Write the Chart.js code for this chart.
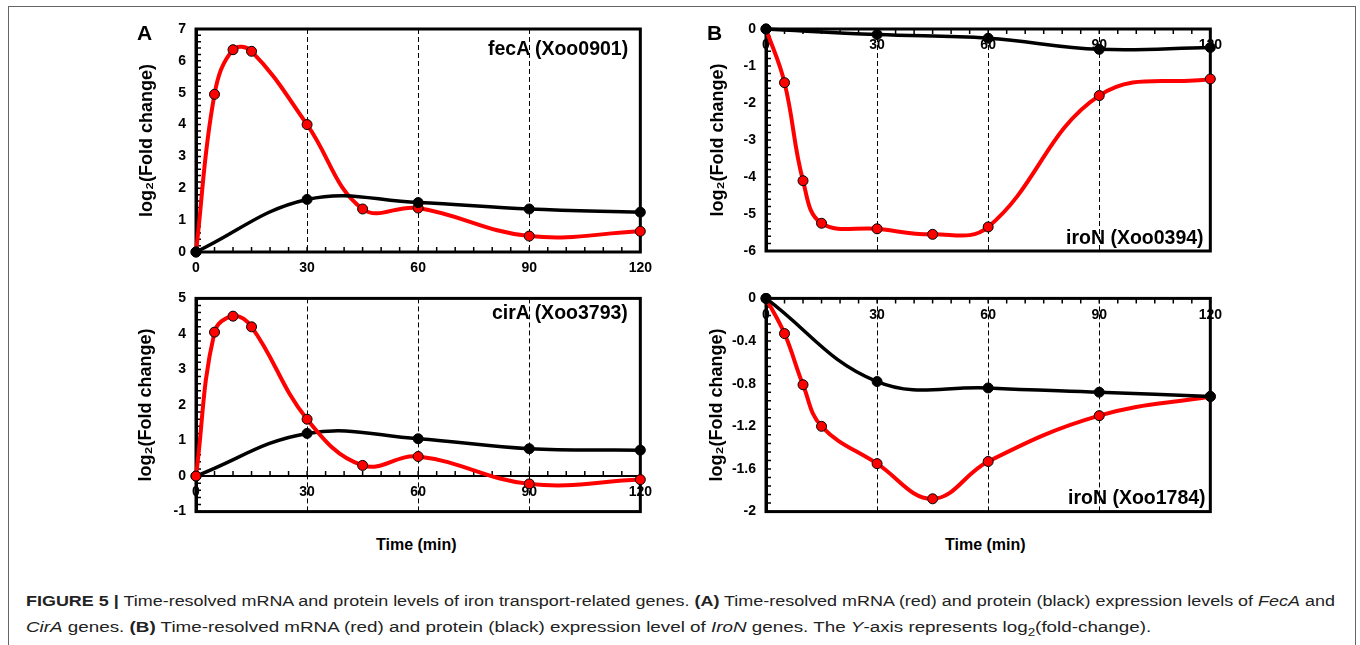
<!DOCTYPE html>
<html>
<head>
<meta charset="utf-8">
<script src="https://cdn.jsdelivr.net/npm/chart.js@4.4.1/dist/chart.umd.min.js"></script>
<style>
body{margin:0;background:#fff;width:1360px;height:645px;overflow:hidden;position:relative;font-family:"Liberation Sans",Arial,sans-serif}
.frame{position:absolute;left:8px;top:6px;width:1346px;height:700px;border:1px solid #666}
canvas{position:absolute}
.lbl{position:absolute;font-weight:bold;color:#000;white-space:nowrap;line-height:1}
.cap{position:absolute;left:26px;white-space:nowrap;font-size:14px;color:#222;transform-origin:0 50%;line-height:1}
</style>
</head>
<body>
<div class="frame"></div>

<canvas id="cFecA" style="left:120px;top:10px" width="540" height="290"></canvas>
<canvas id="cCirA" style="left:120px;top:280px" width="540" height="250"></canvas>
<canvas id="cIro394" style="left:690px;top:10px" width="540" height="260"></canvas>
<canvas id="cIro1784" style="left:690px;top:280px" width="540" height="250"></canvas>

<div class="lbl" style="left:137px;top:22px;font-size:21px">A</div>
<div class="lbl" style="left:707px;top:22px;font-size:21px">B</div>

<div class="lbl gene" id="gFecA" style="font-size:19.5px"></div>
<div class="lbl gene" id="gCirA" style="font-size:19.5px"></div>
<div class="lbl gene" id="gIro394" style="font-size:19.5px"></div>
<div class="lbl gene" id="gIro1784" style="font-size:19.5px"></div>

<div class="lbl" style="left:376px;top:537px;font-size:16px">Time (min)</div>
<div class="lbl" style="left:945px;top:537px;font-size:16px">Time (min)</div>

<div class="cap" id="cap1" style="top:594px"><b>FIGURE 5 |</b> Time-resolved mRNA and protein levels of iron transport-related genes. <b>(A)</b> Time-resolved mRNA (red) and protein (black) expression levels of <i>FecA</i> and</div>
<div class="cap" id="cap2" style="top:620px"><i>CirA</i> genes. <b>(B)</b> Time-resolved mRNA (red) and protein (black) expression level of <i>IroN</i> genes. The <i>Y</i>-axis represents log<sub style="font-size:10px">2</sub>(fold-change).</div>

<script>
// sampling times (min)
const mrnaTimes = [0, 5, 10, 15, 30, 45, 60, 90, 120];
const protTimes = [0, 30, 60, 90, 120];
const xTicks = [0, 30, 60, 90, 120];

// fecA (Xoo0901)
const fecaMrna = [0, 4.95, 6.35, 6.3, 4.0, 1.35, 1.38, 0.5, 0.65];
const fecaProt = [0, 1.65, 1.55, 1.35, 1.25];
// cirA (Xoo3793)
const ciraMrna = [0, 4.05, 4.5, 4.2, 1.6, 0.3, 0.55, -0.22, -0.1];
const ciraProt = [0, 1.2, 1.05, 0.77, 0.73];
// iroN (Xoo0394)
const iro394Mrna = [0, -1.45, -4.1, -5.25, -5.4, -5.55, -5.35, -1.8, -1.35];
const iro394Prot = [0, -0.15, -0.25, -0.55, -0.5];
// iroN (Xoo1784)
const iro1784Mrna = [0, -0.33, -0.81, -1.2, -1.55, -1.88, -1.53, -1.1, -0.92];
const iro1784Prot = [0, -0.78, -0.84, -0.88, -0.92];

const fecaYTicks = [0, 1, 2, 3, 4, 5, 6, 7];
const ciraYTicks = [-1, 0, 1, 2, 3, 4, 5];
const iro394YTicks = [-6, -5, -4, -3, -2, -1, 0];
const iro1784YTicks = [-2, -1.6, -1.2, -0.8, -0.4, 0];

const FONT = "'Liberation Sans', Arial, sans-serif";

function pts(xs, ys) {
  return xs.map((x, i) => ({x: x, y: ys[i]}));
}

// box round the plot + small inward ticks
const frameTicks = {
  id: "frameTicks",
  beforeDatasetsDraw(chart) {
    const {ctx, chartArea: a, scales: {x, y}} = chart;
    ctx.save();
    ctx.strokeStyle = "#000";
    ctx.lineWidth = 3;
    ctx.strokeRect(a.left, a.top, a.right - a.left, a.bottom - a.top);

    ctx.lineWidth = 1.5;
    const y0 = y.getPixelForValue(0);
    const dir = Math.abs(y0 - a.top) < 2 ? 1 : -1;
    ctx.beginPath();
    for (let t = 0; t <= 120; t += 5) {
      const px = x.getPixelForValue(t);
      ctx.moveTo(px, y0);
      ctx.lineTo(px, y0 + dir * 5);
    }
    const step = y.options.ticks.stepSize / 5;
    for (let v = y.min; v <= y.max + 1e-9; v += step) {
      const py = y.getPixelForValue(v);
      ctx.moveTo(a.left, py);
      ctx.lineTo(a.left + 5, py);
    }
    ctx.stroke();
    ctx.restore();
  }
};

function drawPanel(id, mrna, prot, yTicks, geo) {
  const ctx = document.getElementById(id);
  return new Chart(ctx, {
    type: "line",
    data: {
      datasets: [
        {label: "protein", data: pts(protTimes, prot), borderColor: "#000", backgroundColor: "#000",
         pointBorderColor: "#000", pointRadius: 5, pointBorderWidth: 1, borderWidth: 3.5, tension: 0.4, clip: false, order: geo.protOrder},
        {label: "mRNA", data: pts(mrnaTimes, mrna), borderColor: "#ff0000", backgroundColor: "#ff0000",
         pointBorderColor: "#000", pointRadius: 5, pointBorderWidth: 1, borderWidth: 4, tension: 0.4, clip: false, order: geo.mrnaOrder}
      ]
    },
    options: {
      responsive: false,
      animation: false,
      layout: {padding: geo.pad},
      plugins: {legend: {display: false}, tooltip: {enabled: false}},
      scales: {
        x: {
          type: "linear", min: 0, max: 120,
          position: geo.xPos,
          afterFit: s => { if (geo.xH) s.height = geo.xH; },
          afterBuildTicks: s => { s.ticks = xTicks.map(v => ({value: v})); },
          ticks: {color: "#000", padding: geo.xPad, font: {family: FONT, size: 14, weight: "bold"}},
          grid: {drawTicks: false, lineWidth: 1,
                 color: c => (c.tick && c.tick.value > 0 && c.tick.value < 120) ? "#000" : "rgba(0,0,0,0)"},
          border: {display: true, color: "#000", width: 2, dash: [5, 3]}
        },
        y: {
          min: yTicks[0], max: yTicks[yTicks.length - 1],
          afterFit: s => { s.width = geo.yW; },
          afterBuildTicks: s => { s.ticks = yTicks.map(v => ({value: v})); },
          ticks: {stepSize: yTicks[1] - yTicks[0], color: "#000", padding: 10,
                  font: {family: FONT, size: 14, weight: "bold"},
                  callback: v => String(Math.round(v * 10) / 10)},
          grid: {display: false, drawTicks: false},
          border: {display: true, color: "#000", width: 3},
          title: {display: true, text: "log₂(Fold change)", color: "#000",
                  font: {family: FONT, size: 18, weight: "bold"}, padding: {top: 4, bottom: 4}}
        }
      }
    },
    plugins: [frameTicks]
  });
}

let fecaChart, ciraChart, iro394Chart, iro1784Chart;

fecaChart = drawPanel("cFecA", fecaMrna, fecaProt, fecaYTicks,
  {pad: {left: 12, top: 19, right: 18, bottom: 0}, yW: 64, xPos: "bottom", xH: 48, xPad: 8, protOrder: 0, mrnaOrder: 1});
ciraChart = drawPanel("cCirA", ciraMrna, ciraProt, ciraYTicks,
  {pad: {left: 11, top: 12, right: 18, bottom: 13}, yW: 65, xPos: {y: 0}, xPad: 8, protOrder: 1, mrnaOrder: 0});
iro394Chart = drawPanel("cIro394", iro394Mrna, iro394Prot, iro394YTicks,
  {pad: {left: 13, top: 19, right: 19, bottom: 19}, yW: 63, xPos: {y: 0}, xPad: 8, protOrder: 0, mrnaOrder: 1});
iro1784Chart = drawPanel("cIro1784", iro1784Mrna, iro1784Prot, iro1784YTicks,
  {pad: {left: 12, top: 11, right: 19, bottom: 13}, yW: 64, xPos: {y: 0}, xPad: 8, protOrder: 0, mrnaOrder: 1});

function placeGene(id, text, right, cy) {
  const el = document.getElementById(id);
  el.textContent = text;
  el.style.left = (right - el.offsetWidth) + "px";
  el.style.top = (cy - el.offsetHeight / 2) + "px";
}
placeGene("gFecA", "fecA (Xoo0901)", 628, 49);
placeGene("gCirA", "cirA (Xoo3793)", 628, 313);
placeGene("gIro394", "iroN (Xoo0394)", 1204, 238);
placeGene("gIro1784", "iroN (Xoo1784)", 1206, 498);

// caption lines stretched to the widths they have in the figure
function fitLine(id, w) {
  const el = document.getElementById(id);
  el.style.transform = "scaleX(" + (w / el.offsetWidth) + ")";
}
fitLine("cap1", 1309);
fitLine("cap2", 1125);
</script>
</body>
</html>
